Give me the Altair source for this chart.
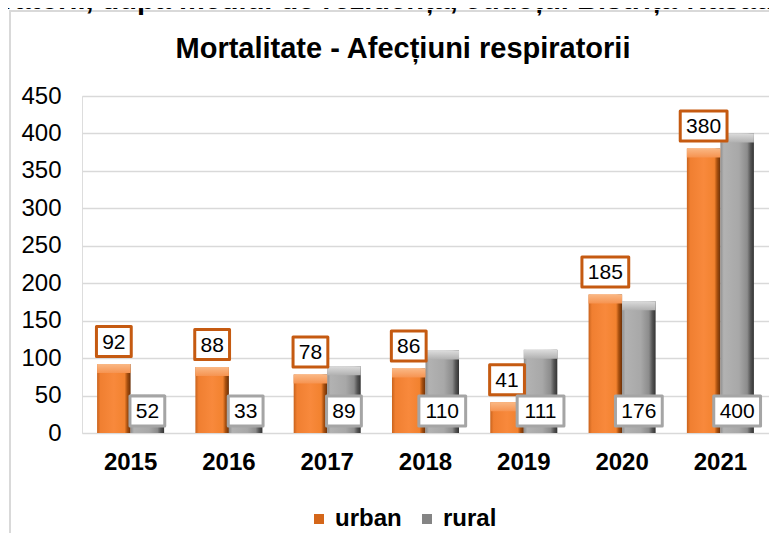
import altair as alt
import pandas as pd

years = ["2015", "2016", "2017", "2018", "2019", "2020", "2021"]
urban = [92, 88, 78, 86, 41, 185, 380]
rural = [52, 33, 89, 110, 111, 176, 400]
series = ["urban", "rural"]
y_ticks = [0, 50, 100, 150, 200, 250, 300, 350, 400, 450]
title_text = "Mortalitate - Afecțiuni respiratorii"
top_text = "respiratorii, după mediul de rezidență, Județul Bistrița-Năsăud"

rows = []
for i, yr in enumerate(years):
    rows.append({"year": yr, "series": "urban", "value": urban[i]})
    rows.append({"year": yr, "series": "rural", "value": rural[i]})
df = pd.DataFrame(rows)
one = pd.DataFrame({"k": [0]})

FONT = "Liberation Sans"

def grad_h(stops):
    return alt.LinearGradient(
        gradient="linear", x1=0, x2=1, y1=0, y2=0,
        stops=[alt.GradientStop(offset=o, color=c) for o, c in stops])

def grad_v(stops):
    return alt.LinearGradient(
        gradient="linear", x1=0, x2=0, y1=0, y2=1,
        stops=[alt.GradientStop(offset=o, color=c) for o, c in stops])

orange_body = grad_h([(0, "#c9631d"), (0.1, "#f07f31"), (0.5, "#f8893c"),
                      (0.82, "#f2822f"), (0.9, "#a9500f"), (1, "#6a3008")])
gray_body = grad_h([(0, "#8e8e8e"), (0.1, "#b2b2b2"), (0.55, "#a8a8a8"),
                    (0.8, "#8c8c8c"), (0.9, "#555555"), (1, "#333333")])
orange_top = grad_v([(0, "#fab885"), (1, "#f69350")])
gray_top = grad_v([(0, "#dcdcdc"), (1, "#b0b0b0")])

x_enc = alt.X("year:N", sort=years,
              scale=alt.Scale(paddingInner=0.318, paddingOuter=0.1535),
              axis=alt.Axis(title=None, labelAngle=0, labelFont=FONT, labelFontSize=24,
                            labelFontWeight="bold", labelColor="#000", labelPadding=17,
                            ticks=False, domain=False, grid=False))
xo = alt.XOffset("series:N", sort=series,
                 scale=alt.Scale(domain=series, paddingInner=0, paddingOuter=0))
y_scale = alt.Scale(domain=[0, 450], nice=False)
y_axis = alt.Axis(title=None, values=y_ticks, labelFont=FONT, labelFontSize=24,
                  labelColor="#000", labelPadding=21, ticks=False, domain=False,
                  grid=True, gridColor="#d9d9d9", gridWidth=1.5, labelOverlap=False)
y_enc = alt.Y("value:Q", scale=y_scale, axis=y_axis)
y_zero = alt.YDatum(0, scale=y_scale, axis=y_axis)

base = alt.Chart(df)
u = base.transform_filter("datum.series == 'urban'")
r = base.transform_filter("datum.series == 'rural'")

bars_u = u.mark_bar(fill=orange_body, strokeWidth=0).encode(x=x_enc, xOffset=xo, y=y_enc)
bars_r = r.mark_bar(fill=gray_body, strokeWidth=0).encode(x=x_enc, xOffset=xo, y=y_enc)
bev_u = u.mark_bar(fill=orange_top, y2Offset=9).encode(x=x_enc, xOffset=xo, y=y_enc, y2=alt.Y2("value:Q"))
bev_r = r.mark_bar(fill=gray_top, y2Offset=9).encode(x=x_enc, xOffset=xo, y=y_enc, y2=alt.Y2("value:Q"))

legend_layer = base.mark_square(opacity=0).encode(
    x=x_enc, xOffset=xo, y=y_enc,
    color=alt.Color("series:N", sort=series,
                    scale=alt.Scale(domain=series, range=["#d4661a", "#848484"]),
                    legend=alt.Legend(orient="none", legendX=225, legendY=411,
                                      direction="horizontal", title=None,
                                      symbolType="square", symbolSize=100,
                                      symbolOpacity=1, symbolStrokeWidth=0,
                                      labelFont=FONT, labelFontSize=24,
                                      labelFontWeight="bold", labelColor="#000",
                                      labelOffset=4, columnPadding=13, padding=0)))

box_path = ("datum.value >= 100 ? 'M-0.78,-0.5H0.78V0.5H-0.78Z' "
            ": 'M-0.58,-0.5H0.58V0.5H-0.58Z'")

box_u = u.transform_calculate(box=box_path).mark_point(
    filled=True, fill="white", stroke="#c55a11", strokeWidth=3, strokeJoin="round",
    size=3600, opacity=1, yOffset=-22.5).encode(
    x=x_enc, xOffset=xo, y=y_enc, shape=alt.Shape("box:N", scale=None))
txt_u = u.mark_text(font=FONT, fontSize=21, color="#000", baseline="middle",
                    align="center", yOffset=-21.5).encode(
    x=x_enc, xOffset=xo, y=y_enc, text="value:Q")

box_r = r.transform_calculate(box=box_path).mark_point(
    filled=True, fill="white", stroke="#a5a5a5", strokeWidth=3, strokeJoin="round",
    size=3600, opacity=1, yOffset=-22).encode(
    x=x_enc, xOffset=xo, y=y_zero, shape=alt.Shape("box:N", scale=None))
txt_r = r.mark_text(font=FONT, fontSize=21, color="#000", baseline="middle",
                    align="center", yOffset=-21).encode(
    x=x_enc, xOffset=xo, y=y_zero, text="value:Q")

frame_left = alt.Chart(one).mark_rule(color="#d9d9d9", strokeWidth=2).encode(
    x=alt.value(-72), y=alt.value(-86), y2=alt.value(450))
frame_top = alt.Chart(one).mark_rule(color="#d9d9d9", strokeWidth=2).encode(
    x=alt.value(-73), x2=alt.value(700), y=alt.value(-85))
top_title = alt.Chart(one).mark_text(
    text=top_text, font=FONT, fontSize=29, fontWeight="bold", color="#000",
    align="left", baseline="alphabetic").encode(x=alt.value(-148), y=alt.value(-87))
main_title = alt.Chart(one).mark_text(
    text=title_text, font=FONT, fontSize=29, fontWeight="bold", color="#000",
    align="center", baseline="alphabetic").encode(x=alt.value(321), y=alt.value(-38.5))

chart = alt.layer(
    frame_left, frame_top, top_title, main_title,
    bars_u, bars_r, bev_u, bev_r, legend_layer,
    box_u, txt_u, box_r, txt_r,
).properties(
    width=687, height=337,
    autosize=alt.AutoSizeParams(type="none"),
    padding={"left": 74, "top": 88, "right": 0, "bottom": 100},
).configure_view(strokeWidth=0, stroke="transparent").configure(background="white")

chart.save("out.html", embed_options={"renderer": "svg", "actions": False})
